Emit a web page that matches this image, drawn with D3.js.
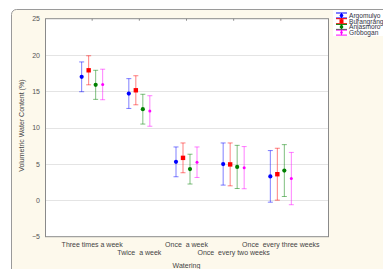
<!DOCTYPE html>
<html>
<head>
<meta charset="utf-8">
<script src="https://cdnjs.cloudflare.com/ajax/libs/d3/7.8.5/d3.min.js"></script>
<style>
  body { margin: 0; background: #fff; }
  svg text { font-family: "Liberation Sans", Arial, sans-serif; white-space: pre; }
</style>
</head>
<body>
<div id="chart"></div>
<script>
var categories = ['Three times a week', 'Twice  a week', 'Once  a week', 'Once  every two weeks', 'Once  every three weeks'];
var varieties = ['Argomulyo', 'Burangrang', 'Anjasmoro', 'Grobogan'];
var colors = ['#0000ff', '#ff0000', '#008000', '#ff00ff'];

// means and half-widths of the error bars, one array per variety
var argomulyoMean = [17.0, 14.7, 5.3, 5.0, 3.3];
var argomulyoErr  = [2.05, 2.05, 2.05, 2.9, 3.55];
var burangrangMean = [17.9, 15.15, 5.85, 4.95, 3.6];
var burangrangErr  = [2.0, 2.0, 2.05, 2.95, 3.57];
var anjasmoroMean = [15.9, 12.55, 4.3, 4.6, 4.1];
var anjasmoroErr  = [2.0, 2.05, 2.05, 2.97, 3.57];
var groboganMean = [15.95, 12.3, 5.25, 4.5, 3.0];
var groboganErr  = [2.1, 2.1, 2.1, 2.9, 3.6];

var yTicks = [-5, 0, 5, 10, 15, 20, 25];

var means = [argomulyoMean, burangrangMean, anjasmoroMean, groboganMean];
var errs = [argomulyoErr, burangrangErr, anjasmoroErr, groboganErr];

var w = 383, h = 269;
var pLeft = 45, pRight = 328, pTop = 18.7, pBottom = 236.7;

var svg = d3.select('#chart').append('svg').attr('width', w).attr('height', h);

// cream outer frame
svg.append('rect')
  .attr('x', 11.5).attr('y', 9.5)
  .attr('width', 420).attr('height', 300)
  .attr('rx', 5)
  .attr('fill', '#fdf9ec')
  .attr('stroke', '#9a9a9a');

var x = d3.scalePoint().domain(categories).range([pLeft, pRight]).padding(1);
var y = d3.scaleLinear().domain([-5, 25]).range([pBottom, pTop]);
var offsets = [-10.5, -3.5, 3.5, 10.5];

svg.append('rect')
  .attr('x', pLeft).attr('y', pTop)
  .attr('width', pRight - pLeft).attr('height', pBottom - pTop)
  .attr('fill', '#fff');

// gridlines
svg.append('g').selectAll('line')
  .data(yTicks.filter(function (t) { return t > -5 && t < 25; }))
  .enter().append('line')
  .attr('x1', pLeft).attr('x2', pRight)
  .attr('y1', function (t) { return Math.round(y(t)) + 0.5; })
  .attr('y2', function (t) { return Math.round(y(t)) + 0.5; })
  .attr('stroke', '#e4e4e4');

svg.append('rect')
  .attr('x', pLeft + 0.5).attr('y', pTop)
  .attr('width', pRight - pLeft).attr('height', pBottom - pTop)
  .attr('fill', 'none')
  .attr('stroke', '#8a8a8a');

// y axis
var yAxis = svg.append('g')
  .attr('transform', 'translate(' + pLeft + ',0)')
  .call(d3.axisLeft(y).tickValues(yTicks).tickSize(0).tickPadding(5));
yAxis.select('.domain').remove();
yAxis.selectAll('text').attr('font-size', 7).attr('fill', '#555')
  .style('font-family', '"Liberation Sans", Arial, sans-serif');

// small ticks at the top
svg.append('g').selectAll('line')
  .data(categories).enter().append('line')
  .attr('x1', function (c) { return x(c); })
  .attr('x2', function (c) { return x(c); })
  .attr('y1', pTop).attr('y2', pTop + 2)
  .attr('stroke', '#8a8a8a');

// x labels, staggered on two rows
svg.append('g').selectAll('text')
  .data(categories).enter().append('text')
  .attr('x', function (c) { return x(c); })
  .attr('y', function (c, i) { return i % 2 === 0 ? 246.5 : 255; })
  .attr('text-anchor', 'middle')
  .attr('font-size', 7)
  .attr('fill', '#444')
  .text(function (c) { return c; });

svg.append('text')
  .attr('x', (pLeft + pRight) / 2).attr('y', 268)
  .attr('text-anchor', 'middle')
  .attr('font-size', 7)
  .attr('fill', '#444')
  .text('Watering');

svg.append('text')
  .attr('transform', 'translate(24,' + ((pTop + pBottom) / 2 - 2) + ') rotate(-90)')
  .attr('text-anchor', 'middle')
  .attr('font-size', 7)
  .attr('fill', '#444')
  .text('Volumetric Water Content (%)');

// series
varieties.forEach(function (v, s) {
  var g = svg.append('g');
  var data = categories.map(function (c, i) {
    return { c: c, m: means[s][i], e: errs[s][i] };
  });
  var cx = function (d) { return x(d.c) + offsets[s]; };
  var bars = g.selectAll('g.bar').data(data).enter().append('g')
    .attr('stroke', colors[s]).attr('stroke-opacity', 0.5).attr('stroke-width', 1);
  bars.append('line')
    .attr('x1', cx).attr('x2', cx)
    .attr('y1', function (d) { return y(d.m + d.e); })
    .attr('y2', function (d) { return y(d.m - d.e); });
  [1, -1].forEach(function (sign) {
    bars.append('line')
      .attr('x1', function (d) { return cx(d) - 2.5; })
      .attr('x2', function (d) { return cx(d) + 2.5; })
      .attr('y1', function (d) { return y(d.m + sign * d.e); })
      .attr('y2', function (d) { return y(d.m + sign * d.e); });
  });
  if (s === 1) {
    g.selectAll('rect').data(data).enter().append('rect')
      .attr('x', function (d) { return cx(d) - 2.2; })
      .attr('y', function (d) { return y(d.m) - 2.2; })
      .attr('width', 4.4).attr('height', 4.4)
      .attr('fill', colors[s]);
  } else {
    g.selectAll('circle').data(data).enter().append('circle')
      .attr('cx', cx)
      .attr('cy', function (d) { return y(d.m); })
      .attr('r', s === 3 ? 1.5 : 2.1)
      .attr('fill', colors[s]);
  }
});

// legend
var lg = svg.append('g');
lg.append('rect')
  .attr('x', 333).attr('y', 10).attr('width', 60).attr('height', 26)
  .attr('fill', '#fff');
varieties.forEach(function (v, s) {
  var ly = 15.5 + s * 5.7;
  var item = lg.append('g');
  item.append('line').attr('x1', 341.5).attr('x2', 341.5)
    .attr('y1', ly - 2.5).attr('y2', ly + 2.5).attr('stroke', colors[s]);
  item.append('line').attr('x1', 336).attr('x2', 347)
    .attr('y1', ly - 2.5).attr('y2', ly - 2.5).attr('stroke', colors[s]);
  item.append('line').attr('x1', 336).attr('x2', 347)
    .attr('y1', ly + 2.5).attr('y2', ly + 2.5).attr('stroke', colors[s]);
  if (s === 1) {
    item.append('rect').attr('x', 339.5).attr('y', ly - 2).attr('width', 4).attr('height', 4)
      .attr('fill', colors[s]);
  } else {
    item.append('circle').attr('cx', 341.5).attr('cy', ly).attr('r', s === 3 ? 1.3 : 1.8)
      .attr('fill', colors[s]);
  }
  item.append('text').attr('x', 349).attr('y', ly + 2.3)
    .attr('font-size', 6.6).attr('fill', '#334')
    .text(v);
});
</script>
</body>
</html>
